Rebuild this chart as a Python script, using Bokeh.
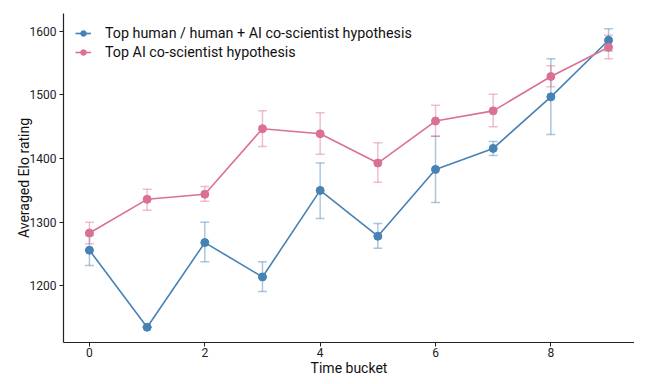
from bokeh.plotting import figure
from bokeh.models import ColumnDataSource, Whisker, Range1d, FixedTicker
from bokeh.embed import file_html
from bokeh.resources import INLINE

buckets = [0, 1, 2, 3, 4, 5, 6, 7, 8, 9]

human_elo = [1256, 1135, 1268, 1214, 1350, 1278, 1383, 1416, 1497, 1586]
human_lo = [1232, 1135, 1238, 1191, 1306, 1259, 1331, 1405, 1438, 1569]
human_hi = [1279, 1135, 1300, 1238, 1393, 1298, 1435, 1427, 1557, 1604]

ai_elo = [1283, 1336, 1344, 1447, 1439, 1393, 1459, 1475, 1529, 1575]
ai_lo = [1266, 1319, 1333, 1419, 1407, 1363, 1435, 1450, 1513, 1557]
ai_hi = [1300, 1352, 1356, 1475, 1472, 1425, 1484, 1501, 1546, 1594]

x_ticks = [0, 2, 4, 6, 8]
y_ticks = [1200, 1300, 1400, 1500, 1600]

BLUE = "#4682b4"
PINK = "#db7093"
FONT = "Roboto"

p = figure(frame_width=571, frame_height=329, output_backend="svg", toolbar_location=None,
           x_range=Range1d(-0.45, 9.45), y_range=Range1d(1111, 1628),
           min_border_left=63, min_border_right=0, min_border_top=13, min_border_bottom=0)
p.outline_line_color = None
p.grid.visible = False

for elo, lo, hi, col, name in [
    (human_elo, human_lo, human_hi, BLUE, "Top human / human + AI co-scientist hypothesis"),
    (ai_elo, ai_lo, ai_hi, PINK, "Top AI co-scientist hypothesis"),
]:
    src = ColumnDataSource(dict(x=buckets, y=elo, lo=lo, hi=hi))
    w = Whisker(source=src, base="x", lower="lo", upper="hi",
                line_color=col, line_alpha=0.45, line_width=1.5)
    for head in (w.lower_head, w.upper_head):
        head.size = 9
        head.line_color = col
        head.line_alpha = 0.45
        head.line_width = 1.5
    p.add_layout(w)
    p.line("x", "y", source=src, line_color=col, line_width=1.6, legend_label=name)
    p.scatter("x", "y", source=src, size=8, fill_color=col, line_color=col, legend_label=name)

for ax in (p.xaxis[0], p.yaxis[0]):
    ax.axis_line_color = "#222222"
    ax.axis_line_width = 1.2
    ax.major_tick_line_color = "#222222"
    ax.major_tick_out = 4
    ax.major_tick_in = 0
    ax.minor_tick_line_color = None
    ax.major_label_text_font = FONT
    ax.major_label_text_font_size = "12px"
    ax.major_label_text_color = "#222222"
    ax.axis_label_text_font = FONT
    ax.axis_label_text_font_size = "14px"
    ax.axis_label_text_font_style = "normal"
    ax.axis_label_text_color = "#111111"

p.xaxis[0].ticker = FixedTicker(ticks=x_ticks)
p.yaxis[0].ticker = FixedTicker(ticks=y_ticks)
p.xaxis[0].axis_label = "Time bucket"
p.yaxis[0].axis_label = "Averaged Elo rating"
p.xaxis[0].axis_label_standoff = 0
p.yaxis[0].axis_label_standoff = -5
p.xaxis[0].major_label_standoff = 1
p.yaxis[0].major_label_standoff = 3

lg = p.legend[0]
lg.location = "top_left"
lg.border_line_color = None
lg.background_fill_alpha = 0
lg.label_text_font = FONT
lg.label_text_font_size = "14.3px"
lg.label_text_color = "#111111"
lg.glyph_width = 16
lg.glyph_height = 14
lg.label_height = 14
lg.label_standoff = 14
lg.spacing = 3
lg.padding = 0
lg.margin = 12

open("out.html", "w").write(file_html(p, INLINE))
